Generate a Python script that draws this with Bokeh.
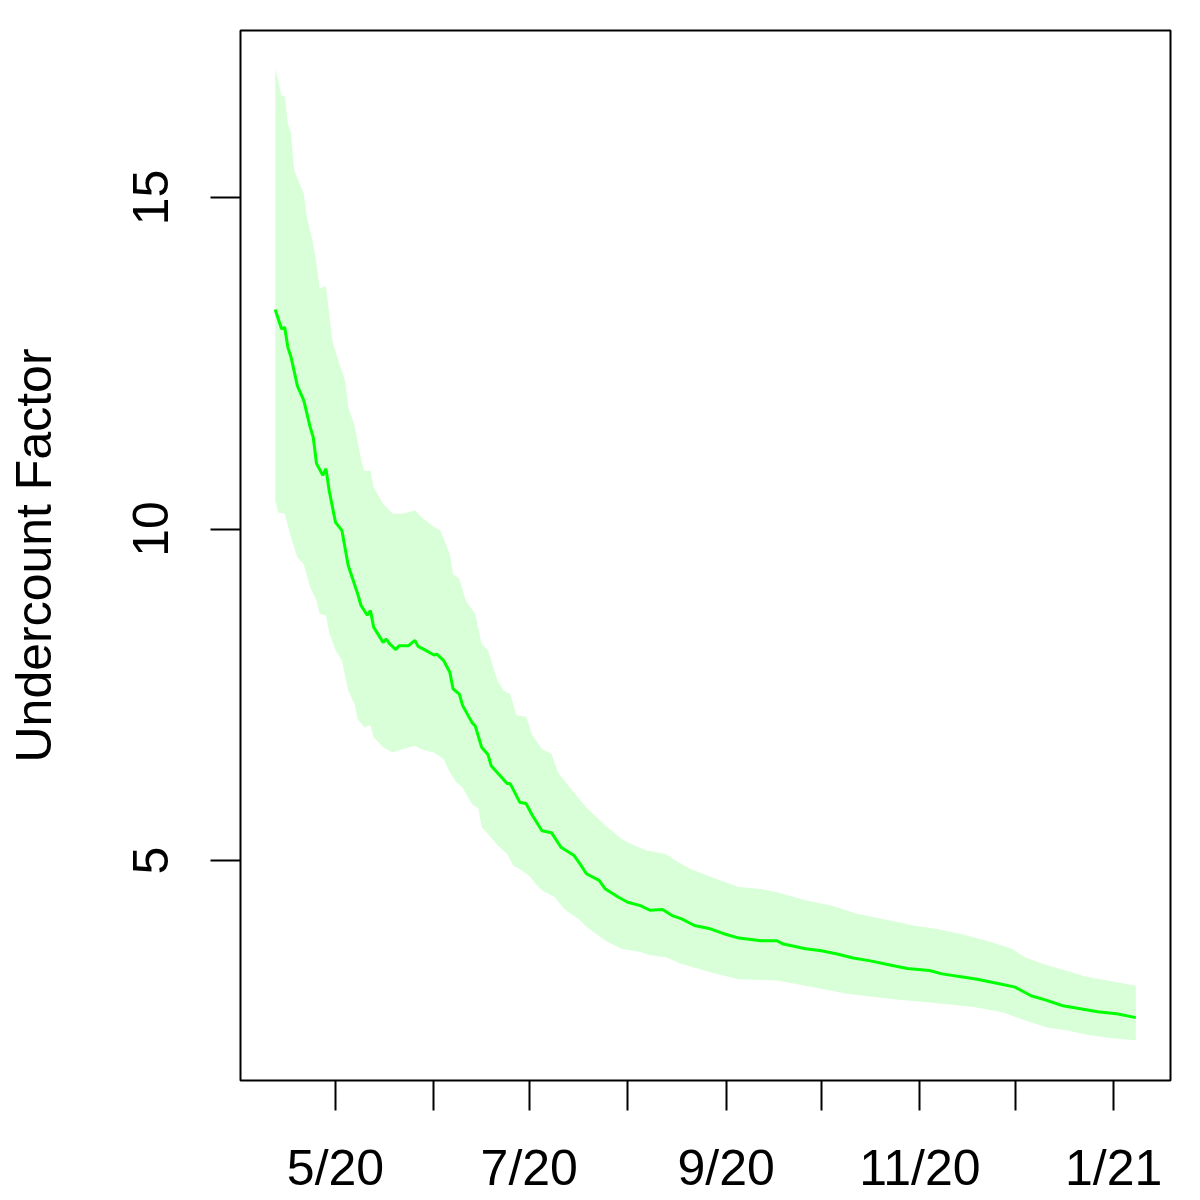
import pandas as pd
from bokeh.plotting import figure
from bokeh.models import Range1d, FixedTicker, ColumnDataSource
from bokeh.embed import file_html
from bokeh.resources import INLINE

# ---- data ----
mid_dates = ["2020-04-12", "2020-04-14", "2020-04-15", "2020-04-16", "2020-04-17", "2020-04-19",
             "2020-04-21", "2020-04-23", "2020-04-24", "2020-04-25", "2020-04-27", "2020-04-28",
             "2020-04-29", "2020-05-01", "2020-05-03", "2020-05-05", "2020-05-08", "2020-05-09",
             "2020-05-11", "2020-05-12", "2020-05-13", "2020-05-16", "2020-05-17", "2020-05-18",
             "2020-05-20", "2020-05-21", "2020-05-24", "2020-05-26", "2020-05-27", "2020-05-29",
             "2020-06-01", "2020-06-02", "2020-06-04", "2020-06-06", "2020-06-07", "2020-06-09",
             "2020-06-10", "2020-06-13", "2020-06-14", "2020-06-16", "2020-06-18", "2020-06-19",
             "2020-06-22", "2020-06-24", "2020-06-25", "2020-06-28", "2020-06-30", "2020-07-02",
             "2020-07-05", "2020-07-08", "2020-07-11", "2020-07-15", "2020-07-17", "2020-07-19",
             "2020-07-23", "2020-07-25", "2020-07-29", "2020-08-01", "2020-08-05", "2020-08-08",
             "2020-08-12", "2020-08-15", "2020-08-18", "2020-08-22", "2020-08-27", "2020-08-31",
             "2020-09-05", "2020-09-12", "2020-09-17", "2020-09-19", "2020-09-26", "2020-10-01",
             "2020-10-06", "2020-10-11", "2020-10-16", "2020-10-23", "2020-10-28", "2020-11-04",
             "2020-11-08", "2020-11-15", "2020-11-19", "2020-11-26", "2020-12-01", "2020-12-06",
             "2020-12-11", "2020-12-16", "2020-12-22", "2020-12-27", "2021-01-02", "2021-01-08"]
mid_values = [13.31, 13.02, 13.04, 12.74, 12.59, 12.16,
              11.94, 11.54, 11.38, 10.99, 10.81, 10.91,
              10.58, 10.10, 9.98, 9.45, 9.02, 8.85,
              8.70, 8.77, 8.52, 8.29, 8.34, 8.27,
              8.18, 8.24, 8.24, 8.32, 8.23, 8.18,
              8.10, 8.11, 8.02, 7.84, 7.59, 7.51,
              7.34, 7.08, 7.03, 6.71, 6.60, 6.43,
              6.27, 6.16, 6.16, 5.88, 5.86, 5.68,
              5.45, 5.42, 5.20, 5.08, 4.95, 4.80,
              4.70, 4.57, 4.45, 4.37, 4.32, 4.25,
              4.26, 4.17, 4.12, 4.02, 3.97, 3.90,
              3.83, 3.79, 3.79, 3.74, 3.67, 3.64,
              3.59, 3.53, 3.49, 3.42, 3.37, 3.34,
              3.29, 3.24, 3.21, 3.14, 3.09, 2.96,
              2.89, 2.81, 2.76, 2.72, 2.69, 2.63]

upper_dates = ["2020-04-12", "2020-04-13", "2020-04-14", "2020-04-15", "2020-04-16", "2020-04-17",
               "2020-04-18", "2020-04-21", "2020-04-22", "2020-04-24", "2020-04-25", "2020-04-26",
               "2020-04-28", "2020-04-29", "2020-04-30", "2020-05-02", "2020-05-04", "2020-05-05",
               "2020-05-07", "2020-05-09", "2020-05-10", "2020-05-12", "2020-05-13", "2020-05-16",
               "2020-05-19", "2020-05-22", "2020-05-26", "2020-05-28", "2020-06-01", "2020-06-03",
               "2020-06-06", "2020-06-07", "2020-06-09", "2020-06-11", "2020-06-14", "2020-06-16",
               "2020-06-18", "2020-06-21", "2020-06-23", "2020-06-25", "2020-06-27", "2020-06-30",
               "2020-07-02", "2020-07-05", "2020-07-08", "2020-07-10", "2020-07-15", "2020-07-19",
               "2020-07-25", "2020-07-30", "2020-08-02", "2020-08-07", "2020-08-13", "2020-08-16",
               "2020-08-21", "2020-08-29", "2020-09-05", "2020-09-12", "2020-09-17", "2020-09-26",
               "2020-10-04", "2020-10-12", "2020-10-20", "2020-10-30", "2020-11-06", "2020-11-14",
               "2020-11-22", "2020-11-30", "2020-12-04", "2020-12-11", "2020-12-17", "2020-12-23",
               "2020-12-30", "2021-01-08"]
upper_values = [16.94, 16.76, 16.53, 16.53, 16.11, 15.97,
                15.41, 15.06, 14.70, 14.30, 14.00, 13.63,
                13.66, 13.25, 12.84, 12.52, 12.24, 11.84,
                11.56, 11.06, 10.88, 10.88, 10.63, 10.38,
                10.23, 10.23, 10.28, 10.18, 10.03, 9.98,
                9.62, 9.32, 9.25, 8.92, 8.72, 8.27,
                8.17, 7.71, 7.56, 7.51, 7.19, 7.17,
                6.89, 6.68, 6.61, 6.33, 6.03, 5.80,
                5.53, 5.33, 5.25, 5.15, 5.10, 5.00,
                4.87, 4.72, 4.60, 4.57, 4.52, 4.40,
                4.32, 4.20, 4.12, 4.02, 3.97, 3.89,
                3.79, 3.67, 3.54, 3.42, 3.34, 3.25,
                3.19, 3.11]

lower_dates = ["2020-04-12", "2020-04-13", "2020-04-15", "2020-04-16", "2020-04-17", "2020-04-19",
               "2020-04-21", "2020-04-23", "2020-04-25", "2020-04-26", "2020-04-28", "2020-04-29",
               "2020-05-01", "2020-05-03", "2020-05-05", "2020-05-07", "2020-05-08", "2020-05-10",
               "2020-05-12", "2020-05-13", "2020-05-16", "2020-05-19", "2020-05-22", "2020-05-26",
               "2020-05-28", "2020-06-01", "2020-06-04", "2020-06-06", "2020-06-08", "2020-06-10",
               "2020-06-13", "2020-06-15", "2020-06-16", "2020-06-18", "2020-06-21", "2020-06-24",
               "2020-06-26", "2020-06-28", "2020-07-01", "2020-07-03", "2020-07-05", "2020-07-06",
               "2020-07-09", "2020-07-12", "2020-07-17", "2020-07-19", "2020-07-25", "2020-07-30",
               "2020-08-05", "2020-08-08", "2020-08-13", "2020-08-18", "2020-08-29", "2020-09-05",
               "2020-09-17", "2020-09-26", "2020-10-09", "2020-10-23", "2020-11-04", "2020-11-18",
               "2020-11-27", "2020-12-04", "2020-12-11", "2020-12-17", "2020-12-25", "2021-01-02",
               "2021-01-08"]
lower_values = [10.43, 10.25, 10.23, 10.05, 9.87, 9.57,
                9.47, 9.12, 8.92, 8.72, 8.70, 8.44,
                8.17, 8.02, 7.56, 7.36, 7.13, 7.01,
                7.04, 6.86, 6.71, 6.63, 6.68, 6.73,
                6.68, 6.63, 6.53, 6.33, 6.18, 6.10,
                5.85, 5.78, 5.50, 5.40, 5.23, 5.10,
                4.92, 4.87, 4.77, 4.65, 4.55, 4.52,
                4.45, 4.27, 4.10, 4.00, 3.79, 3.67,
                3.62, 3.57, 3.54, 3.44, 3.29, 3.21,
                3.19, 3.11, 2.99, 2.91, 2.86, 2.79,
                2.71, 2.59, 2.48, 2.44, 2.36, 2.31,
                2.29]

tick_dates = ["2020-05-01", "2020-06-01", "2020-07-01", "2020-08-01", "2020-09-01",
              "2020-10-01", "2020-11-01", "2020-12-01", "2021-01-01"]
tick_labels = ["5/20", "", "7/20", "", "9/20", "", "11/20", "", "1/21"]
y_ticks = [5, 10, 15]


def ms(s):
    return pd.Timestamp(s).value / 1e6


FONT = "Liberation Sans"

p = figure(width=1200, height=1200, x_axis_type="datetime",
           output_backend="svg", toolbar_location=None,
           min_border_left=240, min_border_right=30,
           min_border_top=30, min_border_bottom=120,
           x_range=Range1d(ms("2020-04-01 02:00"), ms("2021-01-18 22:00")),
           y_range=Range1d(1.682, 17.519))

band_x = [pd.Timestamp(d) for d in upper_dates] + [pd.Timestamp(d) for d in reversed(lower_dates)]
band_y = list(upper_values) + list(reversed(lower_values))
p.patch(band_x, band_y, fill_color="#D9FFD9", line_color=None)

src = ColumnDataSource(dict(x=pd.to_datetime(mid_dates), y=mid_values))
p.line("x", "y", source=src, line_color="#00FF00", line_width=3)

p.xgrid.visible = False
p.ygrid.visible = False
p.background_fill_color = "white"
p.border_fill_color = "white"
p.outline_line_color = "black"
p.outline_line_width = 2
p.outline_line_alpha = 1

tick_ms = [ms(d) for d in tick_dates]
xa = p.xaxis[0]
xa.ticker = FixedTicker(ticks=tick_ms)
xa.major_label_overrides = {t: lab for t, lab in zip(tick_ms, tick_labels)}
ya = p.yaxis[0]
ya.ticker = FixedTicker(ticks=y_ticks)
ya.major_label_orientation = "vertical"
ya.axis_label = "Undercount Factor"

for ax in (xa, ya):
    ax.axis_line_color = None
    ax.major_tick_in = 0
    ax.major_tick_out = 30
    ax.major_tick_line_width = 2
    ax.major_tick_line_color = "black"
    ax.minor_tick_line_color = None
    ax.major_label_text_font = FONT
    ax.major_label_text_font_size = "50px"
    ax.major_label_text_color = "black"

xa.major_label_standoff = 29
ya.major_label_standoff = 42
ya.axis_label_text_font = FONT
ya.axis_label_text_font_size = "50px"
ya.axis_label_text_font_style = "normal"
ya.axis_label_text_color = "black"
ya.axis_label_standoff = 69

open("out.html", "w").write(file_html(p, INLINE))
